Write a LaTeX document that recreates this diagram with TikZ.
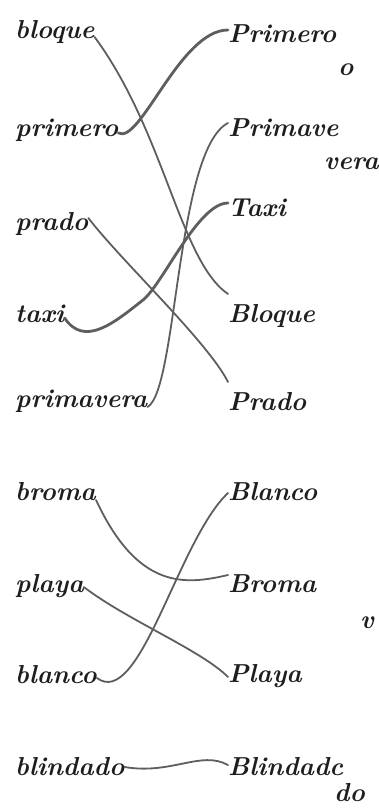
\documentclass[tikz,border=0pt]{standalone}
\usepackage{tikz}
\usetikzlibrary{positioning}
\definecolor{ink}{HTML}{1E1E1E}
\definecolor{pencil}{HTML}{5E5E5E}
\newcommand{\cursiva}{\fontsize{26}{30}\selectfont\bfseries\itshape}

\begin{document}
\begin{tikzpicture}[x=1pt,y=-1pt,
   wl/.style={anchor=base west,inner sep=0pt,text=ink,font=\cursiva},
   wr/.style={anchor=base west,inner sep=0pt,text=ink,font=\cursiva},
   lnk/.style={draw=pencil,line width=1.8pt,line cap=round},
   thk/.style={lnk,line width=2.8pt}]
  \useasboundingbox (0,0) rectangle (378,810);

  % ---- left column (lower case) ----
  \node[wl] (bloque)    at (15,39)  {bloque};
  \node[wl] (primero)   at (15,137) {primero};
  \node[wl] (prado)     at (15,230) {prado};
  \node[wl] (taxi)      at (15,322) {taxi};
  \node[wl] (primavera) at (15,407) {primavera};
  \node[wl] (broma)     at (15,500) {broma};
  \node[wl] (playa)     at (15,592) {playa};
  \node[wl] (blanco)    at (15,683) {blanco};
  \node[wl] (blindado)  at (15,775) {blindado};

  % ---- right column (capitals) ----
  \node[wr] (Primero)   at (228,43)  {Primero};
  \node[wr] (Primave)   at (228,137) {Primave};
  \node[wr] (Taxi)      at (228,217) {Taxi};
  \node[wr] (Bloque)    at (228,322) {Bloque};
  \node[wr] (Prado)     at (228,410) {Prado};
  \node[wr] (Blanco)    at (228,500) {Blanco};
  \node[wr] (Broma)     at (228,592) {Broma};
  \node[wr] (Playa)     at (228,682) {Playa};
  \node[wr] (Blindado)  at (228,775) {Blindadc};
  % stray letters of the scan
  \node[wr] (resto1) at (338,76)  {o};
  \node[wr] (resto2) at (324,170) {vera};
  \node[wr] (resto3) at (360,628) {v};
  \node[wr] (resto4) at (334,801) {do};

  % ---- pencil links ----
  \draw[lnk] ([yshift=2pt]bloque.base east) .. controls +(70,95) and +(-48,-33) .. ([yshift=28pt]Bloque.base west);
  \draw[thk] ([yshift=4pt]primero.base east) .. controls +(22,12) and +(-48,0) .. ([yshift=13pt]Primero.base west);
  \draw[lnk] ([yshift=12pt]prado.base east) .. controls +(32,42) and +(-20,-40) .. ([yshift=28pt]Prado.base west);
  \draw[thk] ([yshift=4pt]taxi.base east) .. controls +(20,30) and +(-28,22) .. (143,300)
             .. controls +(20,-16) and +(-30,0) .. ([yshift=14pt]Taxi.base west);
  \draw[lnk] ([yshift=0pt]primavera.base east) .. controls +(30,-17) and +(-52,27) .. ([yshift=14pt]Primave.base west);
  \draw[lnk] ([yshift=0pt]broma.base east) .. controls +(42,90) and +(-43,10) .. ([yshift=17pt]Broma.base west);
  \draw[lnk] ([yshift=5pt]playa.base east) .. controls +(43,33) and +(-27,-27) .. ([yshift=5pt]Playa.base west);
  \draw[lnk] ([yshift=5pt]blanco.base east) .. controls +(43,32) and +(-50,47) .. ([yshift=7pt]Blanco.base west);
  \draw[lnk] ([yshift=8pt]blindado.base east) .. controls +(47,8) and +(-27,-15) .. ([yshift=10pt]Blindado.base west);
\end{tikzpicture}
\end{document}
